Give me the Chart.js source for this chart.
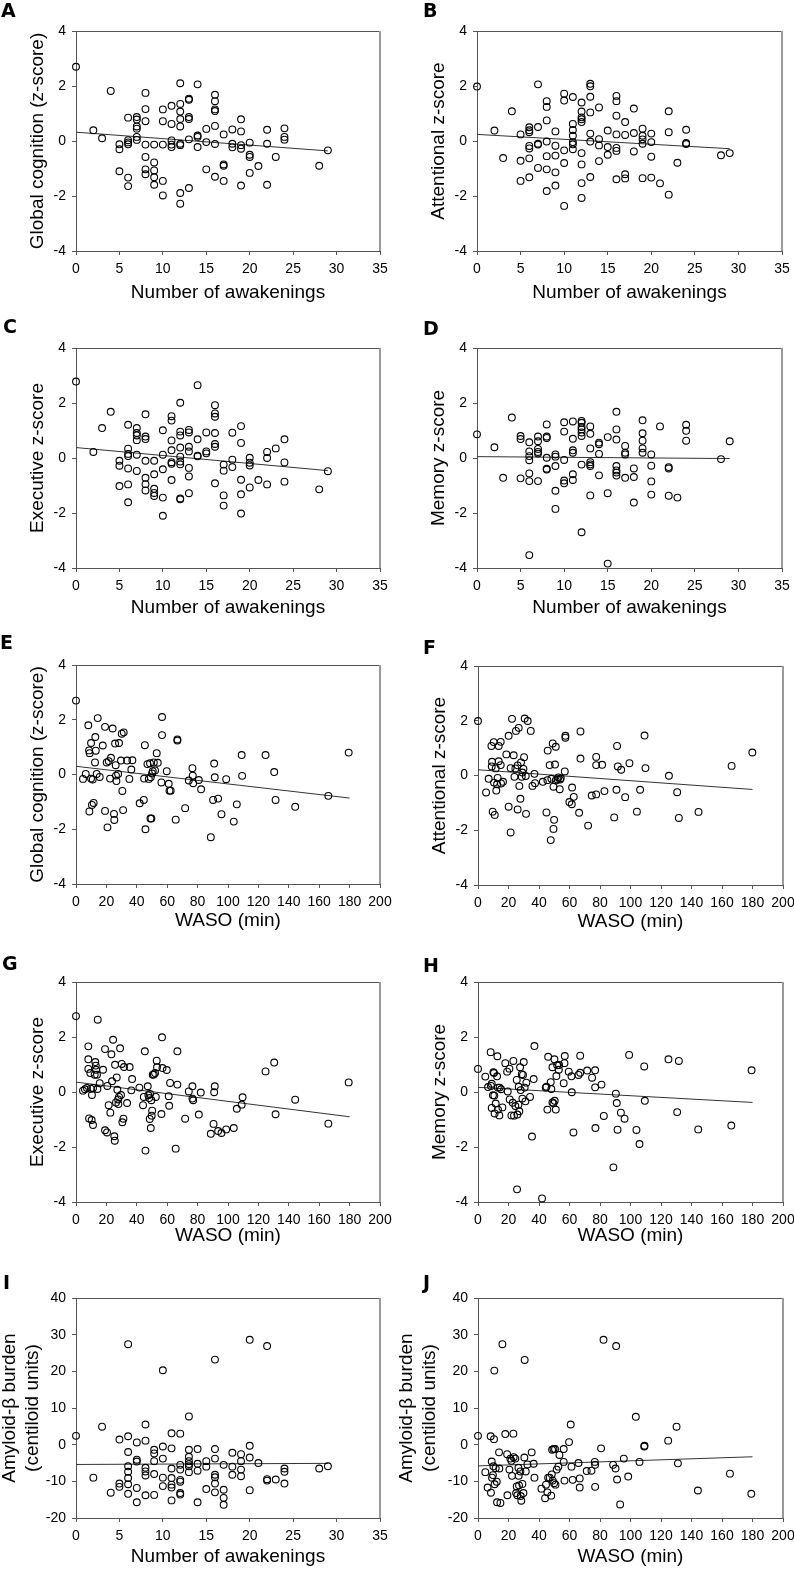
<!DOCTYPE html>
<html>
<head>
<meta charset="utf-8">
<script src="https://cdn.jsdelivr.net/npm/chart.js@4.4.1/dist/chart.umd.min.js"></script>
<style>
  html, body { margin: 0; padding: 0; background: #fff; }
  body { width: 794px; height: 1572px; position: relative; overflow: hidden; font-family: 'Liberation Sans', Arial, sans-serif; }
  canvas { position: absolute; }
  .letter { position: absolute; font-family: 'DejaVu Sans', 'Liberation Sans', Arial, sans-serif; font-size: 19px; line-height: 19px; font-weight: bold; color: #000; }
</style>
</head>
<body>
<script>
// ---- data ----
// awakenings panels: [number of awakenings, score]
const ptsA = [[0,2.7],[2,0.39],[3,0.1],[4,1.82],[5,-0.12],[5,-0.3],[5,-1.1],[6,0.85],[6,0.03],[6,-0.05],[6,-0.12],[6,-1.33],[6,-1.64],[7,0.87],[7,0.78],[7,0.53],[7,0.45],[7,0.15],[7,0.04],[8,1.75],[8,1.16],[8,0.72],[8,-0.13],[8,-0.58],[8,-1.03],[8,-1.21],[9,-0.13],[9,-0.78],[9,-1.07],[9,-1.32],[9,-1.59],[10,1.15],[10,0.72],[10,-0.13],[10,-1.45],[10,-1.98],[11,1.28],[11,0.62],[11,0.02],[11,-0.13],[11,-0.22],[12,2.1],[12,1.35],[12,1.07],[12,0.8],[12,0.53],[12,-0.1],[12,-0.15],[12,-1.89],[12,-2.28],[13,1.54],[13,1.5],[13,0.87],[13,0.8],[13,0.06],[13,-1.71],[14,2.06],[14,0.2],[14,0.15],[14,-0.22],[15,0.44],[15,-0.04],[15,-1.03],[16,1.68],[16,1.45],[16,1.15],[16,1.09],[16,0.55],[16,-0.11],[16,-1.3],[17,0.24],[17,-0.85],[17,-0.9],[17,-1.45],[18,0.42],[18,-0.1],[18,-0.23],[19,0.79],[19,0.35],[19,-0.15],[19,-0.28],[19,-1.62],[20,-0.06],[20,-0.5],[20,-0.58],[20,-1.16],[21,-0.91],[22,0.41],[22,-0.1],[22,-1.59],[23,-0.58],[24,0.46],[24,0.15],[24,0.05],[28,-0.9],[29,-0.34]];
const ptsB = [[0,1.98],[2,0.38],[3,-0.62],[4,1.08],[5,0.24],[5,-0.72],[5,-1.45],[6,0.5],[6,0.39],[6,0.32],[6,-0.18],[6,-0.27],[6,-0.63],[6,-1.32],[7,2.06],[7,0.51],[7,-0.1],[7,-0.13],[7,-0.98],[8,1.45],[8,1.24],[8,0.75],[8,-0.02],[8,-0.55],[8,-1.03],[8,-1.82],[9,0.35],[9,-0.17],[9,-0.53],[9,-1.14],[9,-1.62],[10,1.72],[10,1.47],[10,-0.34],[10,-0.8],[10,-2.36],[11,1.6],[11,0.62],[11,0.4],[11,0.19],[11,-0.04],[11,-0.12],[11,-0.3],[12,1.4],[12,1.07],[12,0.86],[12,0.79],[12,0.69],[12,-0.44],[12,-0.85],[12,-1.53],[12,-2.07],[13,2.08],[13,1.99],[13,1.61],[13,1.04],[13,0.27],[13,-0.02],[13,-1.31],[14,1.22],[14,0.07],[14,-0.16],[14,-0.73],[15,0.38],[15,-0.22],[15,-0.5],[16,1.64],[16,1.45],[16,0.92],[16,0.24],[16,-0.25],[16,-0.36],[16,-1.39],[17,0.69],[17,0.22],[17,-1.21],[17,-1.36],[18,1.18],[18,0.29],[18,-0.38],[19,0.45],[19,0.19],[19,0.06],[19,-0.1],[19,-1.35],[20,0.27],[20,-0.04],[20,-0.57],[20,-1.33],[21,-1.54],[22,1.08],[22,0.32],[22,-1.95],[23,-0.79],[24,0.41],[24,-0.07],[24,-0.11],[28,-0.52],[29,-0.44]];
const ptsC = [[0,2.78],[2,0.22],[3,1.09],[4,1.68],[5,-0.1],[5,-0.28],[5,-1.02],[6,1.21],[6,0.34],[6,0.15],[6,0.07],[6,-0.38],[6,-0.96],[6,-1.61],[7,1.09],[7,0.91],[7,0.82],[7,0.65],[7,0.12],[7,-0.47],[8,1.59],[8,0.78],[8,0.69],[8,-0.1],[8,-0.72],[8,-0.95],[8,-1.18],[9,-0.1],[9,-0.59],[9,-1.12],[9,-1.27],[9,-1.38],[10,1.01],[10,0.12],[10,-0.41],[10,-1.44],[10,-2.1],[11,1.52],[11,1.36],[11,0.64],[11,0.28],[11,-0.15],[11,-0.21],[11,-0.8],[12,2.01],[12,0.96],[12,0.82],[12,0.38],[12,0.05],[12,-0.13],[12,-0.23],[12,-1.47],[12,-1.5],[13,1.02],[13,0.93],[13,0.41],[13,0.24],[13,-0.36],[13,-0.67],[13,-1.28],[14,2.65],[14,0.68],[14,0.08],[14,0.06],[15,0.93],[15,0.24],[15,0.17],[16,1.92],[16,1.62],[16,1.5],[16,0.91],[16,0.51],[16,0.41],[16,-0.92],[17,-0.24],[17,-0.46],[17,-1.36],[17,-1.73],[18,0.92],[18,-0.06],[18,-0.33],[19,1.16],[19,0.55],[19,-0.79],[19,-1.32],[19,-2.02],[20,0.01],[20,-0.17],[20,-0.27],[20,-1.07],[21,-0.8],[22,0.22],[22,0],[22,-0.96],[23,0.35],[24,0.68],[24,-0.16],[24,-0.86],[28,-1.14],[29,-0.48]];
const ptsD = [[0,0.86],[2,0.39],[3,-0.72],[4,1.47],[5,0.8],[5,0.69],[5,-0.74],[6,0.57],[6,0.24],[6,0.07],[6,-0.08],[6,-0.56],[6,-0.84],[6,-3.53],[7,0.78],[7,0.61],[7,0.33],[7,0.22],[7,0.16],[7,-0.84],[8,1.22],[8,0.78],[8,0.73],[8,0.01],[8,-0.39],[8,-0.42],[9,0.13],[9,0.05],[9,-0.29],[9,-1.19],[9,-1.85],[10,1.3],[10,0.96],[10,-0.07],[10,-0.82],[10,-0.92],[11,1.33],[11,0.7],[11,0.28],[11,0.19],[11,-0.59],[11,-0.8],[12,1.35],[12,1.28],[12,1.13],[12,1.04],[12,0.93],[12,0.8],[12,-0.24],[12,-2.7],[13,1.15],[13,0.88],[13,0.35],[13,-0.15],[13,-0.23],[13,-0.29],[13,-1.36],[14,0.56],[14,0.5],[14,0.15],[14,-0.63],[15,0.76],[15,-1.28],[15,-3.84],[16,1.68],[16,1.04],[16,0.67],[16,-0.29],[16,-0.45],[16,-0.53],[16,-0.64],[17,0.44],[17,0.19],[17,0.13],[17,-0.72],[18,-0.38],[18,-0.69],[18,-1.62],[19,1.37],[19,0.9],[19,0.63],[19,0.35],[19,0.19],[20,0.13],[20,-0.28],[20,-0.85],[20,-1.33],[21,1.15],[22,-0.33],[22,-0.38],[22,-1.37],[23,-1.44],[24,1.21],[24,0.99],[24,0.63],[28,-0.04],[29,0.61]];
const ptsI = [[0,2.4],[2,-9],[3,4.9],[4,-13.1],[5,1.4],[5,-10.6],[5,-11.5],[6,27.4],[6,2.3],[6,-2],[6,-5.9],[6,-7.4],[6,-9.1],[6,-10.8],[6,-13.4],[7,0.6],[7,-4.1],[7,-4.6],[7,-11.8],[7,-15.7],[8,5.5],[8,1.1],[8,-6.3],[8,-7.3],[8,-8.4],[8,-13.8],[9,-1.4],[9,-2.4],[9,-4.5],[9,-8],[9,-13.7],[10,20.3],[10,-0.5],[10,-3.8],[10,-9],[10,-11.3],[11,3.1],[11,-1],[11,-6.5],[11,-9.1],[11,-10.9],[11,-11.7],[11,-15.2],[12,3],[12,-5.5],[12,-6.8],[12,-9.6],[12,-10.1],[12,-13.2],[12,-13.6],[13,7.7],[13,-1.4],[13,-3.3],[13,-4.5],[13,-5.3],[13,-5.9],[13,-7.5],[14,-1.2],[14,-5.2],[14,-7.1],[14,-15.7],[15,-4.5],[15,-6],[15,-12.1],[16,23.2],[16,-1.2],[16,-3.8],[16,-8.2],[16,-8.9],[16,-10.6],[16,-13],[17,-5.5],[17,-12.3],[17,-14.5],[17,-16.4],[18,-2.2],[18,-6],[18,-8.2],[19,-2.6],[19,-4.5],[19,-6.8],[19,-8.6],[20,28.6],[20,-0.3],[20,-3.5],[20,-12.4],[21,-5],[22,26.9],[22,-9.4],[22,-9.8],[23,-9.5],[24,-6.5],[24,-7.4],[24,-10.6],[28,-6.5],[29,-5.9]];

// WASO panels: [WASO (min), score]
const ptsE = [[0,2.7],[4.6,-0.16],[6.4,0.02],[8.1,1.8],[8.6,0.88],[9,0.78],[8.8,-1.35],[9.9,1.15],[9.9,-0.15],[10.5,-1.11],[11.6,-1.04],[11,-0.18],[12.5,0.44],[12.7,1.37],[13,0.87],[13.6,0.02],[14.3,2.06],[15.6,-0.09],[17.6,1.06],[19.1,1.74],[19.1,-1.33],[20.2,0.44],[20.7,-1.93],[21.5,0.49],[22.4,-0.15],[23,0.61],[24.1,1.68],[25,-1.44],[25.2,-1.66],[25.7,1.13],[26.1,0.34],[26.3,-0.04],[26.6,-0.24],[27.7,0.02],[28.3,1.15],[29.6,0.51],[30.1,1.49],[30.5,-0.6],[31.4,1.54],[31,-1.3],[33.6,0.51],[35.1,-0.16],[36.4,0.18],[37.1,0.52],[41.9,-1.05],[44.6,-0.93],[44.8,-0.15],[45.3,1.07],[45.7,-2],[47,0.38],[47.9,-0.16],[48.7,0.41],[49,-1.61],[49.6,-1.61],[49.2,-0.1],[50,0.04],[50.5,0.12],[51.2,0.44],[52,0.15],[53.1,0.78],[53.8,0.43],[56.2,-0.29],[56.6,1.44],[56.6,2.1],[59.7,0.12],[61,-0.34],[61.5,-0.59],[62.3,-0.59],[65.6,-1.65],[66.7,1.28],[66.7,1.24],[71.8,-1.23],[74.2,-0.22],[76.6,0.23],[76.8,-0.04],[77.1,-0.32],[80.8,-0.2],[82.3,-0.54],[88.7,-2.29],[90.2,-0.93],[90.9,0.4],[91.3,-0.1],[93.5,-0.88],[95.7,-1.45],[98.8,-0.17],[103.8,-1.72],[105.8,-1.09],[109,0.71],[109.3,-0.05],[124.7,0.71],[130.4,0.09],[131.3,-0.93],[144.2,-1.18],[166,-0.78],[179.4,0.8]];
const ptsF = [[0,1.99],[5.3,-0.62],[7,-0.12],[8.8,1.08],[9,0.33],[9.2,0.5],[9.6,-1.32],[10.3,1.22],[10.5,-0.26],[11,-1.44],[11.6,0.26],[12,-0.55],[12.5,-0.32],[12.9,-0.09],[13.6,1.08],[13.6,0.52],[14.9,1.23],[14.9,0.38],[15.1,-0.29],[16.4,-0.23],[18.6,0.77],[20.1,-1.14],[20.1,1.45],[21.4,-2.08],[21.4,0.27],[22.3,2.07],[23.4,0.74],[23.9,-0.05],[24.5,0.26],[24.9,1.63],[26,0.37],[26,-1.24],[26.7,1.74],[27.1,-0.38],[27.8,-0.85],[28.2,0.48],[28.7,-0.05],[29.1,0.11],[29.8,0.24],[30.2,0.67],[30.6,2.08],[31.3,-0.02],[31.5,-1.4],[32.6,1.99],[34.6,1.63],[35.7,-0.38],[37,0.06],[37.4,-0.28],[42.5,-0.23],[44.9,-1.35],[45.5,-0.17],[45.7,0.91],[47,0.38],[47.7,-2.36],[48.1,-0.12],[49,1.17],[49.5,-0.41],[49.5,-1.95],[49.9,-1.62],[50.5,0.4],[51,1.05],[51,-0.18],[52.1,-0.15],[52.7,-0.07],[53.6,-0.5],[53.8,-0.15],[54.3,-0.1],[56.9,0.15],[57.3,1.45],[57.3,1.38],[59.9,-0.97],[61.5,-1.05],[61.7,-0.44],[62.8,-0.78],[66.3,-1.36],[67.2,0.62],[67.2,1.61],[72.2,-1.83],[74.6,-0.73],[77.5,-0.69],[77.5,0.68],[77.5,0.38],[81.4,0.39],[82.9,-0.57],[89.3,-1.53],[90.8,-0.52],[91.2,1.08],[91.7,0.33],[93.9,0.21],[96.5,-0.79],[99.3,0.45],[104.2,-1.32],[106.3,-0.52],[109.2,1.46],[109.8,0.27],[125.2,-0.01],[130.6,-0.61],[131.7,-1.55],[144.6,-1.33],[166.3,0.35],[179.9,0.84]];
const ptsG = [[0,2.76],[4.6,0.05],[5.9,0.1],[7.2,0.15],[8.1,1.66],[8.1,1.19],[8.1,0.84],[8.6,-0.96],[9.4,0.69],[9.7,0.12],[10.3,-1.02],[10.5,-0.11],[11.2,0.15],[11.2,-1.2],[12.3,0.63],[12.7,1.09],[13,0.96],[13.2,0.81],[13.8,0.63],[14.1,0.11],[14.3,2.63],[15.6,0.32],[17.8,0.81],[19.1,1.56],[19.1,-1.39],[20.4,-1.47],[20.6,0.22],[21.5,-0.48],[22.6,-0.75],[23.3,1.37],[23.7,0.39],[24.4,1.9],[25.2,-1.61],[25.5,-1.77],[25.7,0.99],[26.3,-0.38],[26.8,0.53],[27.2,0.08],[27.7,-0.27],[27.9,-0.44],[28.3,-0.18],[29,1.59],[29.6,-0.11],[30.1,1.02],[30.5,-1.1],[31.2,-0.97],[31.6,0.91],[33.6,-0.4],[35.3,0.91],[36.4,0.06],[36.9,0.47],[41.7,0.16],[44.1,-0.48],[44.6,-0.18],[45.3,1.48],[45.7,-2.13],[47.2,0.21],[47.6,-0.12],[48.1,-0.22],[48.5,-0.98],[48.7,-0.07],[49.2,-1.31],[49.6,-0.3],[49.8,-0.86],[50.1,-0.68],[50.5,0.63],[51.2,0.64],[52,0.69],[52.5,-0.18],[53.1,1.14],[53.3,0.9],[56.2,-0.8],[56.6,1.99],[56.9,0.87],[59.7,0.8],[61,-0.15],[61.3,-0.5],[61.9,0.33],[65.6,-2.06],[66.7,0.27],[66.7,1.48],[71.8,-0.97],[74.2,0.02],[76.6,0.21],[76.6,-0.24],[77.1,-0.3],[82.1,-0.02],[80.8,-0.82],[88.7,-1.52],[90.5,-1.16],[90.9,-0.01],[91.3,0.21],[93.5,-1.42],[95.7,-1.49],[98.8,-1.36],[103.8,-1.31],[105.8,-0.61],[109,-0.46],[109.6,-0.19],[124.7,0.75],[130.4,1.07],[131.3,-0.81],[144.2,-0.28],[166,-1.15],[179.4,0.35]];
const ptsH = [[0,0.84],[4.8,0.56],[6.6,0.18],[8.3,1.45],[8.5,0.22],[9,0.3],[9,-0.58],[9.8,-0.12],[10.1,0.72],[10.5,0.69],[10.7,-0.13],[10.9,-0.78],[11.6,-0.42],[12.5,0.57],[12.7,1.3],[13,0.16],[13.1,-0.64],[14,-0.85],[14.2,0.16],[15.1,0.1],[16,-0.56],[17.9,1.05],[19.1,0.74],[19.5,0.02],[20.6,0.85],[20.8,-0.27],[21.9,-0.85],[22.8,-0.39],[23.2,1.13],[23.6,-0.86],[24.5,-0.51],[25.4,0.44],[25.6,-3.54],[25.8,-0.82],[26.5,-0.46],[26.7,0.19],[27.1,-0.7],[27.6,0.9],[28,0.07],[28.7,0.65],[29.1,-0.24],[29.5,0.62],[30,1.09],[30.6,0.16],[31.1,-0.34],[31.7,0.34],[34.1,-0.18],[35.4,-1.62],[36.5,0.47],[37,1.67],[42,-3.87],[44.4,0.16],[44.9,0.19],[45.5,-0.64],[46,1.28],[47.7,0.36],[48.1,0.11],[48.8,0.9],[48.8,-0.38],[49.5,-0.41],[50.1,1.19],[50.3,-0.32],[51,-0.64],[51.4,0.58],[51.9,0.97],[53,0.81],[53.2,0.98],[56.2,0.32],[56.7,1.05],[56.9,1.31],[59.5,0.74],[61.3,0.57],[61.5,-0.01],[62.6,-1.47],[65.9,0.62],[67,1.32],[67,0.7],[71.6,0.78],[74.8,0.52],[76.8,0.79],[76.8,0.17],[77,-1.31],[81,0.27],[82.5,-0.87],[88.8,-2.74],[90.4,-0.06],[91,-0.4],[91.5,-1.37],[93.7,-0.75],[96.1,-0.97],[99.1,1.35],[103.9,-1.38],[105.9,-1.89],[109,0.93],[109.4,-0.32],[124.9,1.19],[130.6,-0.73],[131.7,1.13],[144.4,-1.36],[166.1,-1.22],[179.4,0.79]];
const ptsJ = [[0,2.4],[4.8,-7.5],[6.3,-11.7],[8.3,2.3],[8.5,-13.1],[9,-4.6],[9.2,-9],[9.8,-8.3],[10.1,-5.9],[10.5,1.5],[10.7,20.2],[10.9,-10.8],[11.6,-6.4],[12.3,-10.1],[12.5,-15.7],[13.8,-2.1],[14,-6.5],[14.7,-15.9],[16,27.4],[17.9,2.9],[19.1,-2.6],[19.3,-13.8],[20.6,-6.8],[21.2,-3.8],[21.9,-4.4],[22.3,-8.5],[23.2,3],[23.4,-3.4],[24.5,-3.8],[25,-13.2],[25.4,-11.4],[25.8,-13.8],[26.5,-6.3],[26.7,-8.5],[26.9,-11.1],[27.8,-7.3],[28,-14],[28.4,-15.3],[29.1,-10.7],[29.8,-13.2],[30.4,-3.5],[30.6,23.1],[31.3,-7.3],[32.4,-5.4],[35.2,-2.1],[36.5,-5.2],[37,-9],[41.6,-12],[44,-14.6],[44.6,-10.9],[45.5,-13],[46,-9],[47,-9],[48,-13.9],[48.4,-8.1],[48.6,-1.4],[49,-9.8],[49.5,-1.2],[49.9,-10.5],[50.5,-1.2],[50.8,-10.9],[51.6,-6.8],[52.7,-6],[53.4,-2.8],[56.2,-1.2],[56.2,-4.7],[56.7,-9.8],[59.7,0.7],[60.8,5.5],[61.3,-6],[62.1,-9.6],[65.9,-5],[66.7,-9.2],[66.7,-11.7],[71.3,-7.2],[74.4,-7.1],[76.6,-4.7],[76.8,-5.5],[76.8,-11.5],[80.7,-1],[82.3,28.6],[88.6,-5.5],[90.2,-6.5],[90.6,26.9],[91.2,-9.5],[93.2,-16.3],[95.6,-3.8],[98.5,-8.7],[103.5,7.6],[105.9,-4.7],[109,-0.5],[109.2,-0.3],[124.7,1.1],[130.2,4.9],[131.1,-5.1],[144.2,-12.5],[165.2,-7.9],[179.2,-13.4]];

// regression lines: [x, y] at both ends
const fitA = [[0,0.32],[29,-0.36]];
const fitB = [[0,0.24],[29,-0.28]];
const fitC = [[0,0.38],[29,-0.46]];
const fitD = [[0,0.05],[29,-0.02]];
const fitE = [[0,0.3],[180,-0.86]];
const fitF = [[0,0.21],[180,-0.51]];
const fitG = [[0,0.36],[180,-0.9]];
const fitH = [[0,0.17],[180,-0.38]];
const fitI = [[0,-5.4],[29,-5.1]];
const fitJ = [[0,-5.8],[180,-3.3]];

// axis ranges and titles
const awakeAxis = { min: 0, max: 35, step: 5, title: 'Number of awakenings' };
const wasoAxis = { min: 0, max: 200, step: 20, title: 'WASO (min)' };
const zAxis = { min: -4, max: 4, step: 2 };
const amyAxis = { min: -20, max: 40, step: 10 };

// ---- layout of the ten panels (page pixels of each plot area) ----
const panels = [
  { id: 'A', pts: ptsA, fit: fitA, x: awakeAxis, y: zAxis, yTitle: 'Global cognition (z-score)', col: 0,   L: 76,  T: 31,   R: 380, B: 251,  gap: 42, letter: [1, 4] },
  { id: 'B', pts: ptsB, fit: fitB, x: awakeAxis, y: zAxis, yTitle: 'Attentional z-score',        col: 397, L: 477, T: 31,   R: 782, B: 251,  gap: 42, letter: [423, 4] },
  { id: 'C', pts: ptsC, fit: fitC, x: awakeAxis, y: zAxis, yTitle: 'Executive z-score',          col: 0,   L: 76,  T: 348,  R: 380, B: 568,  gap: 40, letter: [3, 320] },
  { id: 'D', pts: ptsD, fit: fitD, x: awakeAxis, y: zAxis, yTitle: 'Memory z-score',             col: 397, L: 477, T: 348,  R: 782, B: 568,  gap: 40, letter: [423, 322] },
  { id: 'E', pts: ptsE, fit: fitE, x: wasoAxis,  y: zAxis, yTitle: 'Global cognition (z-score)', col: 0,   L: 76,  T: 665,  R: 380, B: 884,  gap: 37, letter: [0, 636] },
  { id: 'F', pts: ptsF, fit: fitF, x: wasoAxis,  y: zAxis, yTitle: 'Attentional z-score',        col: 397, L: 478, T: 666,  R: 783, B: 885,  gap: 37, letter: [423, 641] },
  { id: 'G', pts: ptsG, fit: fitG, x: wasoAxis,  y: zAxis, yTitle: 'Executive z-score',          col: 0,   L: 76,  T: 982,  R: 380, B: 1202, gap: 34, letter: [2, 957] },
  { id: 'H', pts: ptsH, fit: fitH, x: wasoAxis,  y: zAxis, yTitle: 'Memory z-score',             col: 397, L: 478, T: 982,  R: 783, B: 1202, gap: 34, letter: [423, 959] },
  { id: 'I', pts: ptsI, fit: fitI, x: awakeAxis, y: amyAxis, yTitle: ['Amyloid-\u03b2 burden', '(centiloid units)'], col: 0,   L: 76,  T: 1298, R: 380, B: 1518, gap: 39, letter: [3, 1276] },
  { id: 'J', pts: ptsJ, fit: fitJ, x: wasoAxis,  y: amyAxis, yTitle: ['Amyloid-\u03b2 burden', '(centiloid units)'], col: 397, L: 478, T: 1298, R: 783, B: 1518, gap: 39, letter: [423, 1276] }
];

const FONT = "'Liberation Sans', Arial, sans-serif";
const AXIS_COLOR = '#555';
const TOP_PAD = 31;
const X_AXIS_H = 60;
const CANVAS_W = 410;
const TITLE_SIZE = 19;

Chart.defaults.font.family = FONT;
Chart.defaults.color = '#000';

// top edge dark, right edge lighter and a bit thicker, like the original frame
const framePlugin = {
  id: 'frame',
  afterDraw(chart) {
    const { ctx, chartArea: a } = chart;
    ctx.save();
    ctx.strokeStyle = AXIS_COLOR;
    ctx.lineWidth = 1;
    ctx.beginPath();
    ctx.moveTo(a.left, Math.round(a.top) + 0.5);
    ctx.lineTo(a.right, Math.round(a.top) + 0.5);
    ctx.stroke();
    ctx.strokeStyle = '#9a9a9a';
    ctx.lineWidth = 2;
    ctx.beginPath();
    ctx.moveTo(Math.round(a.right), a.top);
    ctx.lineTo(Math.round(a.right), a.bottom);
    ctx.stroke();
    ctx.restore();
  }
};

function toXY(pairs) {
  return pairs.map(p => ({ x: p[0], y: p[1] }));
}

function drawPanel(p) {
  const canvas = document.createElement('canvas');
  const h = TOP_PAD + (p.B - p.T) + X_AXIS_H;
  canvas.width = CANVAS_W;
  canvas.height = h;
  canvas.style.left = p.col + 'px';
  canvas.style.top = (p.T - TOP_PAD) + 'px';
  canvas.style.width = CANVAS_W + 'px';
  canvas.style.height = h + 'px';
  document.body.appendChild(canvas);

  const yAxisW = p.L - p.col;
  const lineH = TITLE_SIZE * 1.2;
  const twoLines = Array.isArray(p.yTitle);
  // centre of the (first) y title line, measured from the canvas left
  const yTitleCenter = twoLines ? 10 : yAxisW - 38;

  new Chart(canvas, {
    type: 'scatter',
    data: {
      datasets: [{
        type: 'scatter',
        data: toXY(p.pts),
        pointStyle: 'circle',
        pointRadius: 3.4,
        borderWidth: 1.1,
        borderColor: '#000',
        backgroundColor: 'rgba(0,0,0,0)',
        clip: false
      }, {
        type: 'line',
        data: toXY(p.fit),
        borderColor: '#333',
        borderWidth: 1,
        pointRadius: 0,
        fill: false,
        clip: false
      }]
    },
    plugins: [framePlugin],
    options: {
      responsive: false,
      animation: false,
      events: [],
      layout: { padding: { left: 0, top: TOP_PAD, right: CANVAS_W - (p.R - p.col), bottom: 0 } },
      plugins: { legend: { display: false }, tooltip: { enabled: false } },
      scales: {
        x: {
          type: 'linear',
          min: p.x.min,
          max: p.x.max,
          afterFit: s => { s.height = X_AXIS_H; },
          ticks: { stepSize: p.x.step, autoSkip: false, maxRotation: 0, padding: 6, font: { size: 14 }, color: '#000' },
          grid: { drawOnChartArea: false, drawTicks: true, tickLength: 4, tickColor: AXIS_COLOR },
          border: { display: true, color: AXIS_COLOR, width: 1 },
          title: {
            display: true,
            text: p.x.title,
            color: '#000',
            font: { size: TITLE_SIZE, lineHeight: 1.2 },
            padding: { top: 0, bottom: X_AXIS_H - p.gap - lineH / 2 }
          }
        },
        y: {
          type: 'linear',
          min: p.y.min,
          max: p.y.max,
          afterFit: s => { s.width = yAxisW; },
          ticks: { stepSize: p.y.step, autoSkip: false, padding: 6, font: { size: 14 }, color: '#000' },
          grid: { drawOnChartArea: false, drawTicks: true, tickLength: 4, tickColor: AXIS_COLOR },
          border: { display: true, color: AXIS_COLOR, width: 1 },
          title: {
            display: true,
            text: p.yTitle,
            color: '#000',
            font: { size: TITLE_SIZE, lineHeight: 1.2 },
            padding: { top: yTitleCenter - lineH / 2, bottom: 0 }
          }
        }
      }
    }
  });

  // panel letter
  const letter = document.createElement('div');
  letter.className = 'letter';
  letter.textContent = p.id;
  letter.style.left = p.letter[0] + 'px';
  letter.style.top = (p.letter[1] - 3) + 'px';
  document.body.appendChild(letter);
}

panels.forEach(drawPanel);
</script>
</body>
</html>
